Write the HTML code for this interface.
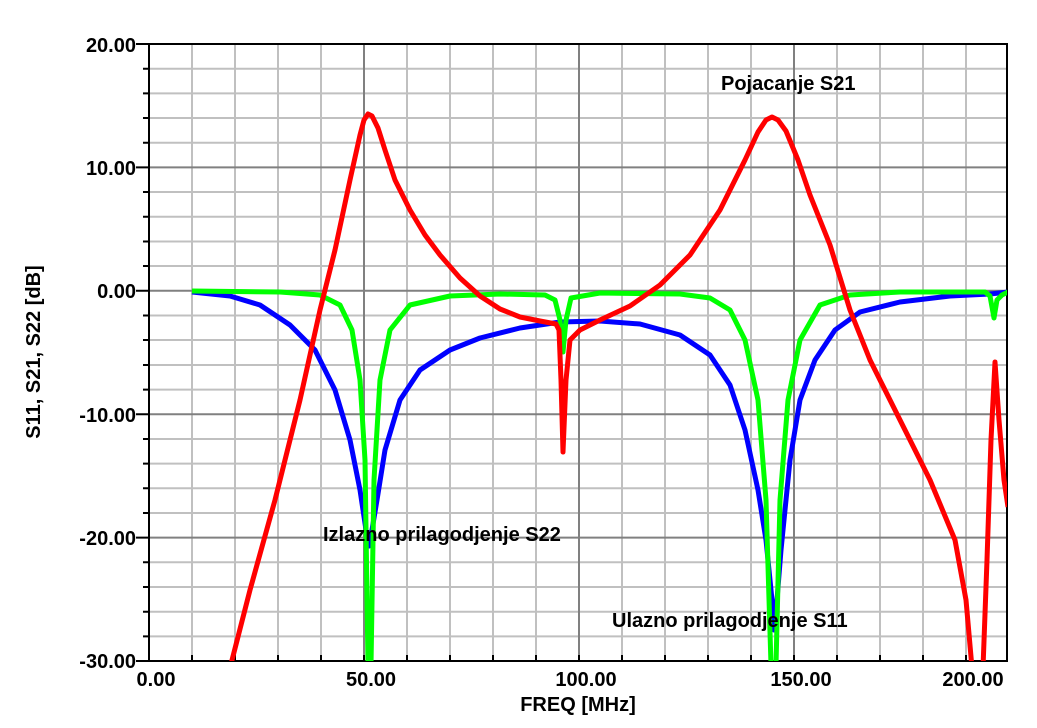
<!DOCTYPE html>
<html><head><style>body{margin:0;background:#fff}svg text{font-family:"Liberation Sans",Arial,sans-serif;font-weight:bold}</style></head><body>
<svg width="1037" height="723" xmlns="http://www.w3.org/2000/svg">
<defs><clipPath id="c"><rect x="149" y="44" width="858" height="617"/></clipPath></defs>
<g stroke="#c0c0c0" stroke-width="2">
<path d="M192 44V661M235 44V661M278 44V661M321 44V661M407 44V661M450 44V661M493 44V661M536 44V661M622 44V661M665 44V661M708 44V661M751 44V661M837 44V661M880 44V661M923 44V661M966 44V661"/>
<path d="M149 68.7H1007M149 93.4H1007M149 118H1007M149 142.7H1007M149 192H1007M149 216.8H1007M149 241.5H1007M149 266H1007M149 315.5H1007M149 340H1007M149 365H1007M149 389.6H1007M149 439H1007M149 463.6H1007M149 488.3H1007M149 513H1007M149 562.3H1007M149 587H1007M149 611.7H1007M149 636.4H1007"/>
</g>
<g stroke="#808080" stroke-width="2">
<path d="M364 44V661M579 44V661M794 44V661M149 167.4H1007M149 290.8H1007M149 414.2H1007M149 537.6H1007"/>
</g>
<g stroke="#000" stroke-width="2" fill="none">
<path d="M149 44H1007V661H149Z"/>
<path d="M136 44H149M136 167.4H149M136 290.8H149M136 414.2H149M136 537.6H149M136 661H149"/>
<path d="M143 68.7H149M143 93.4H149M143 118H149M143 142.7H149M143 192H149M143 216.8H149M143 241.5H149M143 266H149M143 315.5H149M143 340H149M143 365H149M143 389.6H149M143 439H149M143 463.6H149M143 488.3H149M143 513H149M143 562.3H149M143 587H149M143 611.7H149M143 636.4H149"/>
<path d="M192 661V655M235 661V655M278 661V655M321 661V655M364 661V655M407 661V655M450 661V655M493 661V655M536 661V655M579 661V655M622 661V655M665 661V655M708 661V655M751 661V655M794 661V655M837 661V655M880 661V655M923 661V655M966 661V655"/>
</g>
<g clip-path="url(#c)" fill="none" stroke-width="5" stroke-linejoin="round">
<polyline stroke="#0000ff" points="192,292 230,296 260,305 290,325 315,350 335,390 350,440 360,490 366,530 369,546 372,530 377,500 385,450 400,400 420,370 450,350 480,338 520,328 560,322 600,321 640,324 680,335 710,355 730,385 745,430 758,490 766,540 772,600 774,630 777,600 781,550 790,460 800,400 815,360 835,330 860,312 900,302 950,296 990,294 1008,292"/>
<polyline stroke="#00ff00" points="192,291 280,292 320,295 340,305 352,330 360,380 365,460 368,665 371,665 374,480 380,380 390,330 410,305 450,296 500,294 545,295 555,300 560,320 563,352 566,320 571,298 600,293 680,294 710,298 730,310 745,340 758,400 766,500 771,665 776,665 780,500 788,400 800,340 820,305 850,295 900,292 985,292 990,296 994,318 997,300 1002,295 1008,292"/>
<polyline stroke="#ff0000" points="230,668 250,590 275,500 300,400 320,310 335,250 350,180 360,135 364,120 368,114 372,116 378,128 385,150 395,180 410,210 425,235 440,255 460,278 480,296 500,309 520,317 540,321 556,324 559,330 561,380 563,452 566,380 570,340 580,330 600,320 630,306 660,285 690,255 720,210 745,160 758,132 766,120 772,117 778,120 786,131 798,160 810,195 830,245 850,310 870,360 900,420 930,480 955,540 966,600 972,668"/>
<polyline stroke="#ff0000" points="983,668 987,560 991,440 995,362 999,420 1004,480 1008,507"/>
</g>
<g font-size="20" text-anchor="end" fill="#000">
<text x="136" y="52">20.00</text><text x="136" y="175">10.00</text><text x="136" y="298">0.00</text><text x="136" y="422">-10.00</text><text x="136" y="545">-20.00</text><text x="136" y="668">-30.00</text>
</g>
<g font-size="20" text-anchor="middle" fill="#000">
<text x="156" y="686">0.00</text><text x="371" y="686">50.00</text><text x="586" y="686">100.00</text><text x="801" y="686">150.00</text><text x="973" y="686">200.00</text>
<text x="578" y="711">FREQ [MHz]</text>
<text transform="translate(40,352) rotate(-90)">S11, S21, S22 [dB]</text>
</g>
<g font-size="20" fill="#000">
<text x="721" y="90">Pojacanje S21</text>
<text x="323" y="541">Izlazno prilagodjenje S22</text>
<text x="612" y="627">Ulazno prilagodjenje S11</text>
</g>
</svg>
</body></html>
